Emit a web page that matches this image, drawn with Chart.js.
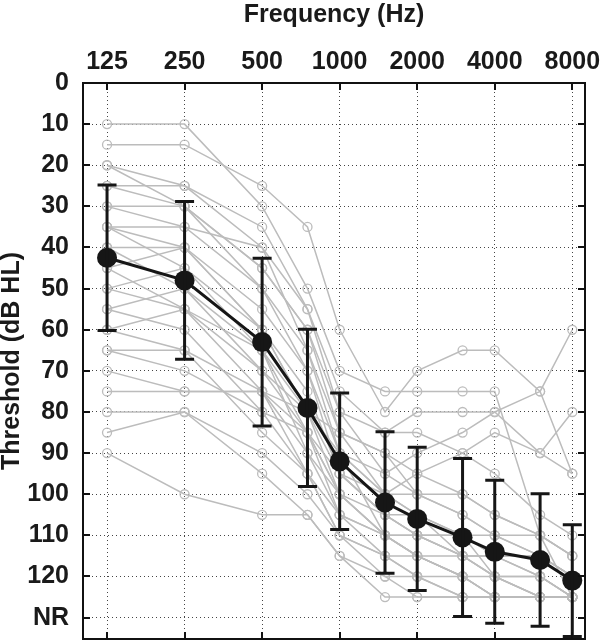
<!DOCTYPE html>
<html>
<head>
<meta charset="utf-8">
<script src="https://cdn.jsdelivr.net/npm/chart.js@4.4.1/dist/chart.umd.min.js"></script>
<style>
  html, body { margin: 0; padding: 0; background: #fff; }
  canvas { display: block; }
</style>
</head>
<body>
<canvas id="audiogram" width="600" height="640"></canvas>
<script>
// frequences mesurees (Hz) et position en octaves depuis 125 Hz
const frequencies = [125, 250, 500, 750, 1000, 1500, 2000, 3000, 4000, 6000, 8000];
const octaves = frequencies.map(f => Math.log2(f / 125));

// etiquettes de l'axe du haut (octaves entieres seulement)
const freqTickLabels = ['125', '250', '500', '1000', '2000', '4000', '8000'];
const freqTickOctaves = [0, 1, 2, 3, 4, 5, 6];

// etiquettes de l'axe vertical
const thresholdTicks = [0, 10, 20, 30, 40, 50, 60, 70, 80, 90, 100, 110, 120, 130];
const nrLabel = 'NR';

// moyenne du groupe et ecart-type
const meanThreshold = [42.5, 48, 63, 79, 92, 102, 106, 110.5, 114, 116, 121];
const sdThreshold = [17.7, 19.2, 20.4, 19.1, 16.6, 17.2, 17.4, 19.2, 17.4, 16.1, 13.6];

// audiogrammes individuels
const s01 = [10, 10, 30, 50, 70, 75, 75, 75, 75, 110, 125];
const s02 = [15, 15, 25, 35, 60, 80, 70, 65, 65, 75, 60];
const s03 = [20, 25, 35, 55, 75, 85, 80, 80, 80, 75, 95];
const s04 = [25, 25, 40, 55, 80, 95, 90, 85, 80, 90, 80];
const s05 = [25, 30, 45, 60, 85, 90, 95, 100, 105, 110, 115];
const s06 = [30, 35, 40, 65, 90, 100, 105, 110, 115, 120, 125];
const s07 = [30, 30, 50, 70, 95, 105, 110, 115, 120, 125, 125];
const s08 = [35, 40, 55, 70, 90, 110, 115, 115, 120, 120, 125];
const s09 = [35, 45, 60, 80, 100, 105, 110, 110, 115, 115, 120];
const s10 = [40, 40, 60, 75, 95, 100, 105, 115, 120, 120, 125];
const s11 = [40, 50, 65, 85, 100, 110, 115, 120, 125, 125, 125];
const s12 = [45, 40, 60, 80, 95, 105, 105, 110, 110, 115, 120];
const s13 = [45, 55, 70, 85, 105, 110, 110, 115, 115, 120, 125];
const s14 = [50, 45, 65, 90, 100, 110, 115, 120, 120, 125, 125];
const s15 = [50, 55, 75, 95, 110, 120, 120, 125, 125, 125, 125];
const s16 = [55, 50, 70, 80, 85, 90, 100, 105, 110, 115, 120];
const s17 = [55, 60, 80, 95, 110, 115, 120, 125, 125, 125, 125];
const s18 = [60, 55, 65, 80, 90, 95, 100, 100, 105, 110, 115];
const s19 = [60, 65, 75, 90, 105, 115, 115, 120, 125, 125, 125];
const s20 = [65, 65, 85, 95, 105, 110, 110, 115, 115, 115, 120];
const s21 = [65, 70, 80, 85, 95, 105, 110, 110, 120, 125, 125];
const s22 = [70, 75, 75, 80, 90, 100, 95, 90, 85, 90, 95];
const s23 = [75, 75, 75, 85, 100, 110, 115, 120, 125, 125, 125];
const s24 = [80, 80, 90, 100, 110, 115, 120, 120, 125, 125, 125];
const s25 = [85, 80, 95, 105, 115, 125, 125, 125, 125, 125, 125];
const s26 = [90, 100, 105, 105, 115, 120, 125, 125, 125, 125, 125];
const s27 = [20, 30, 45, 60, 80, 85, 85, 90, 95, 105, 110];
const s28 = [35, 35, 50, 65, 85, 100, 100, 105, 110, 110, 115];
const subjects = [s01, s02, s03, s04, s05, s06, s07, s08, s09, s10, s11, s12, s13, s14,
                  s15, s16, s17, s18, s19, s20, s21, s22, s23, s24, s25, s26, s27, s28];

const FONT = '"Liberation Sans", Arial, Helvetica, sans-serif';
const GRAY = '#bcbcbc';

function toPoints(values) {
  return values.map((v, i) => ({ x: octaves[i], y: v }));
}

// pas de marge automatique due aux etiquettes
function noPadding(scale) {
  scale.paddingLeft = 0;
  scale.paddingRight = 0;
  scale.paddingTop = 0;
  scale.paddingBottom = 0;
}

// cadre, graduations vers l'interieur et barres d'erreur
const framePlugin = {
  id: 'frame',
  afterDatasetsDraw(chart) {
    const ctx = chart.ctx;
    const xs = chart.scales.x;
    const ys = chart.scales.y;
    const a = chart.chartArea;

    ctx.save();
    // barres d'erreur
    ctx.strokeStyle = '#161616';
    ctx.lineWidth = 3;
    meanThreshold.forEach((m, i) => {
      const x = xs.getPixelForValue(octaves[i]);
      const yTop = ys.getPixelForValue(m - sdThreshold[i]);
      const yBot = ys.getPixelForValue(m + sdThreshold[i]);
      ctx.beginPath();
      ctx.moveTo(x, yTop); ctx.lineTo(x, yBot);
      ctx.moveTo(x - 9.5, yTop); ctx.lineTo(x + 9.5, yTop);
      ctx.moveTo(x - 9.5, yBot); ctx.lineTo(x + 9.5, yBot);
      ctx.stroke();
    });

    // cadre
    ctx.strokeStyle = '#111';
    ctx.lineWidth = 2;
    ctx.strokeRect(a.left, a.top, a.right - a.left, a.bottom - a.top);

    // graduations
    const tl = 7;
    ctx.beginPath();
    freqTickOctaves.forEach(o => {
      const x = Math.round(xs.getPixelForValue(o));
      ctx.moveTo(x, a.top); ctx.lineTo(x, a.top + tl);
      ctx.moveTo(x, a.bottom); ctx.lineTo(x, a.bottom - tl);
    });
    thresholdTicks.forEach(t => {
      const y = Math.round(ys.getPixelForValue(t));
      ctx.moveTo(a.left, y); ctx.lineTo(a.left + tl, y);
      ctx.moveTo(a.right, y); ctx.lineTo(a.right - tl, y);
    });
    ctx.stroke();
    ctx.restore();
  }
};

const datasets = [{
  label: 'Moyenne',
  data: toPoints(meanThreshold),
  borderColor: '#161616',
  backgroundColor: '#161616',
  borderWidth: 3,
  pointRadius: 10,
  pointBorderWidth: 0,
  pointBackgroundColor: '#161616',
  tension: 0,
  clip: false
}];

subjects.forEach((s, k) => {
  datasets.push({
    label: 'S' + (k + 1),
    data: toPoints(s),
    borderColor: GRAY,
    borderWidth: 1.5,
    pointRadius: 4.5,
    pointBorderWidth: 1.3,
    pointBorderColor: GRAY,
    pointBackgroundColor: 'rgba(255,255,255,0)',
    tension: 0
  });
});

new Chart(document.getElementById('audiogram'), {
  type: 'line',
  data: { datasets: datasets },
  options: {
    responsive: false,
    animation: false,
    layout: { autoPadding: false, padding: { left: 0, right: 15, top: 0, bottom: 1 } },
    plugins: {
      legend: { display: false },
      tooltip: { enabled: false }
    },
    scales: {
      x: {
        type: 'linear',
        position: 'top',
        min: -0.31,
        max: 6.164,
        afterBuildTicks: scale => { scale.ticks = freqTickOctaves.map(v => ({ value: v })); },
        afterFit: scale => { scale.height = 83; noPadding(scale); },
        ticks: {
          autoSkip: false,
          maxRotation: 0,
          padding: 6,
          color: '#1a1a1a',
          font: { family: FONT, size: 25, weight: 'bold' },
          callback: function(value) {
            const i = freqTickOctaves.indexOf(value);
            return i >= 0 ? freqTickLabels[i] : '';
          }
        },
        grid: { color: '#444', lineWidth: 1, drawTicks: false },
        border: { display: true, color: '#111', width: 2, dash: [1, 3] },
        title: {
          display: true,
          text: 'Frequency (Hz)',
          color: '#1a1a1a',
          padding: { top: 3, bottom: 0 },
          font: { family: FONT, size: 25, weight: 'bold', lineHeight: 1 }
        }
      },
      y: {
        type: 'linear',
        reverse: true,
        min: 0,
        max: 135.2,
        afterBuildTicks: scale => { scale.ticks = thresholdTicks.map(v => ({ value: v })); },
        afterFit: scale => { scale.width = 83; noPadding(scale); },
        ticks: {
          autoSkip: false,
          padding: 14,
          color: '#1a1a1a',
          font: { family: FONT, size: 25, weight: 'bold' },
          callback: value => (value === 130 ? nrLabel : String(value))
        },
        grid: { color: '#444', lineWidth: 1, drawTicks: false },
        border: { display: true, color: '#111', width: 2, dash: [1, 3] },
        title: {
          display: true,
          text: 'Threshold (dB HL)',
          color: '#1a1a1a',
          padding: { top: 0, bottom: 0 },
          font: { family: FONT, size: 25, weight: 'bold', lineHeight: 1 }
        }
      }
    }
  },
  plugins: [framePlugin]
});
</script>
</body>
</html>
